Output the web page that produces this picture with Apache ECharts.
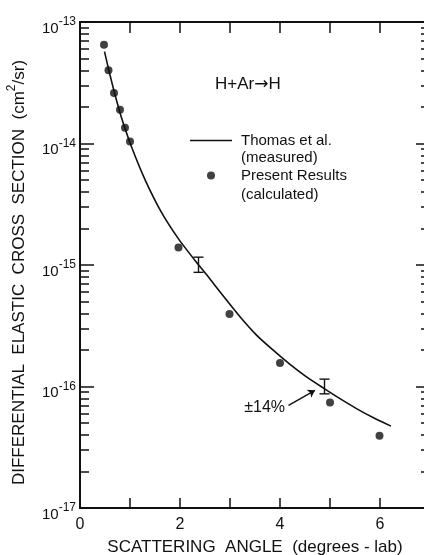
<!DOCTYPE html>
<html lang="en">
<head>
<meta charset="UTF-8">
<title>H+Ar elastic cross section</title>
<style>html,body{margin:0;padding:0;background:#fff;}</style>
</head>
<body>
<div id="main" style="width:424px;height:555px;"></div>
<script src="https://cdn.jsdelivr.net/npm/echarts@6/dist/echarts.min.js"></script>
<script>
  // present results (calculated), angle in degrees-lab, sigma in cm^2/sr
  var calcAngle = [0.48, 0.57, 0.68, 0.80, 0.90, 1.00, 1.97, 2.99, 4.00, 5.00, 5.99];
  var calcSigma = [6.5e-14, 4.0e-14, 2.6e-14, 1.9e-14, 1.35e-14, 1.04e-14, 1.39e-15, 3.96e-16, 1.56e-16, 7.4e-17, 3.94e-17];

  // Thomas et al. (measured) curve
  var measAngle = [0.49, 0.60, 0.70, 0.83, 1.03, 1.30, 1.63, 1.97, 2.30, 2.53, 2.87, 3.20, 3.53, 3.87,
    4.20, 4.53, 4.87, 5.20, 5.53, 5.87, 6.22];
  var measSigma = [5.7e-14, 3.66e-14, 2.52e-14, 1.63e-14, 9.4e-15, 5.05e-15, 2.71e-15, 1.64e-15, 1.09e-15,
    8.35e-16, 5.52e-16, 3.75e-16, 2.65e-16, 1.98e-16, 1.52e-16, 1.2e-16, 9.7e-17, 7.94e-17, 6.58e-17,
    5.53e-17, 4.72e-17];

  // +-14% error bars on the measured curve
  var errAngle = [2.37, 4.89];
  var errLow = [0.87e-15, 0.87e-16];
  var errHigh = [1.16e-15, 1.15e-16];

  var xTickLabels = ['0', '2', '4', '6'];
  var decades = [1e-17, 1e-16, 1e-15, 1e-14];
  var minorMult = [2, 3, 4, 5, 6, 7, 8, 9];

  var minorTicks = [];
  decades.forEach(function (d) {
    minorMult.forEach(function (m) { minorTicks.push(m * d); });
  });

  var font = "'Liberation Sans', Arial, sans-serif";
  var ink = '#111';

  var chart = echarts.init(document.getElementById('main'));

  function yAxisBase(pos, tickLen, custom, showLabel) {
    var ax = {
      type: 'log',
      logBase: 10,
      min: 1e-17,
      max: 1e-13,
      position: pos,
      axisLine: { show: true, lineStyle: { color: ink, width: 2 } },
      axisTick: { show: true, inside: true, length: tickLen, lineStyle: { color: ink, width: 1.5 } },
      splitLine: { show: false },
      axisLabel: { show: false }
    };
    if (custom) ax.axisTick.customValues = minorTicks;
    if (showLabel) {
      ax.axisLabel = {
        show: true,
        margin: 4,
        padding: [8, 0, 0, 0],
        formatter: function (v) {
          var e = Math.round(Math.log10(v));
          return '{b|10}{s|' + e + '}';
        },
        rich: {
          b: { fontFamily: font, fontSize: 15, color: ink, verticalAlign: 'bottom', lineHeight: 20 },
          s: { fontFamily: font, fontSize: 12, color: ink, verticalAlign: 'top', lineHeight: 20 }
        }
      };
      ax.name = '{p|DIFFERENTIAL  ELASTIC  CROSS  SECTION  (cm}{s|2}{p|/sr)}';
      ax.nameLocation = 'middle';
      ax.nameRotate = 90;
      ax.nameGap = 52;
      ax.nameTextStyle = {
        fontFamily: font, fontSize: 17, color: ink, padding: [0, 15, 0, 0],
        rich: {
          p: { fontFamily: font, fontSize: 17, color: ink, verticalAlign: 'bottom', lineHeight: 22 },
          s: { fontFamily: font, fontSize: 12, color: ink, verticalAlign: 'top', lineHeight: 22 }
        }
      };
    }
    return ax;
  }

  var option = {
    animation: false,
    backgroundColor: '#fff',
    grid: { left: 80, top: 22, width: 350, height: 486, outerBoundsMode: 'none', containLabel: false },
    legend: {
      orient: 'vertical',
      left: 190,
      top: 133,
      padding: 0,
      itemWidth: 42,
      itemHeight: 8,
      itemGap: 20,
      selectedMode: false,
      textStyle: { fontFamily: font, fontSize: 15, color: ink, padding: [0, 0, 0, 4] },
      data: [
        { name: 'Thomas et al.', icon: 'path://M0,0L42,0L42,1.6L0,1.6Z' },
        { name: 'Present Results', icon: 'circle' }
      ]
    },
    graphic: [
      { type: 'text', left: 241, top: 150, style: { text: '(measured)', font: '15px ' + font, fill: ink } },
      { type: 'text', left: 241, top: 187, style: { text: '(calculated)', font: '15px ' + font, fill: ink } },
      {
        type: 'text', left: 215, top: 76,
        style: {
          text: '{a|H+Ar}{b|\u2192}{a|H}',
          rich: {
            a: { fontFamily: font, fontSize: 17, fill: ink, color: ink },
            b: { fontFamily: "'DejaVu Sans'", fontSize: 17, fill: ink, color: ink }
          }
        }
      }
    ],
    xAxis: [
      {
        type: 'value',
        min: 0,
        max: 7,
        interval: 1,
        position: 'bottom',
        axisLine: { lineStyle: { color: ink, width: 2 } },
        axisTick: { inside: true, length: 10, lineStyle: { color: ink, width: 1.5 } },
        splitLine: { show: false },
        axisLabel: {
          margin: 9,
          fontFamily: font,
          fontSize: 16,
          color: ink,
          formatter: function (v) {
            var i = xTickLabels.indexOf(String(v));
            return i >= 0 ? xTickLabels[i] : '';
          }
        },
        name: 'SCATTERING  ANGLE  (degrees - lab)',
        nameLocation: 'middle',
        nameGap: 31,
        nameTextStyle: { fontFamily: font, fontSize: 17, color: ink }
      },
      {
        type: 'value',
        min: 0,
        max: 7,
        interval: 1,
        position: 'top',
        axisLine: { lineStyle: { color: ink, width: 2 } },
        axisTick: { inside: true, length: 11, lineStyle: { color: ink, width: 1.5 } },
        splitLine: { show: false },
        axisLabel: { show: false }
      }
    ],
    yAxis: [
      yAxisBase('left', 14, false, true),
      yAxisBase('left', 9, true, false),
      yAxisBase('right', 14, false, false),
      yAxisBase('right', 9, true, false)
    ],
    series: [
      {
        name: 'Thomas et al.',
        type: 'line',
        smooth: 0.2,
        symbol: 'none',
        showSymbol: false,
        lineStyle: { color: ink, width: 1.6 },
        itemStyle: { color: ink },
        data: measAngle.map(function (a, i) { return [a, measSigma[i]]; }),
        z: 3
      },
      {
        name: 'Present Results',
        type: 'scatter',
        symbol: 'circle',
        symbolSize: 8,
        itemStyle: { color: ink },
        data: calcAngle.map(function (a, i) { return [a, calcSigma[i]]; }),
        z: 4
      },
      {
        name: 'errors',
        type: 'custom',
        data: errAngle.map(function (a, i) { return [a, errLow[i], errHigh[i]]; }),
        renderItem: function (params, api) {
          var lo = api.coord([api.value(0), api.value(1)]);
          var hi = api.coord([api.value(0), api.value(2)]);
          var w = 5;
          var st = { stroke: ink, lineWidth: 1.4 };
          return {
            type: 'group',
            children: [
              { type: 'line', shape: { x1: lo[0], y1: lo[1], x2: hi[0], y2: hi[1] }, style: st },
              { type: 'line', shape: { x1: lo[0] - w, y1: lo[1], x2: lo[0] + w, y2: lo[1] }, style: st },
              { type: 'line', shape: { x1: hi[0] - w, y1: hi[1], x2: hi[0] + w, y2: hi[1] }, style: st }
            ]
          };
        },
        markLine: {
          silent: true,
          symbol: ['none', 'arrow'],
          symbolSize: 7,
          lineStyle: { color: ink, width: 1.4, type: 'solid' },
          label: {
            show: true,
            position: 'start',
            formatter: '\u00b114%',
            fontFamily: font,
            fontSize: 16,
            color: ink,
            distance: 4
          },
          data: [
            [{ coord: [4.17, 7.0e-17] }, { coord: [4.70, 9.3e-17] }]
          ]
        },
        z: 5
      }
    ]
  };

  chart.setOption(option);
</script>
</body>
</html>
